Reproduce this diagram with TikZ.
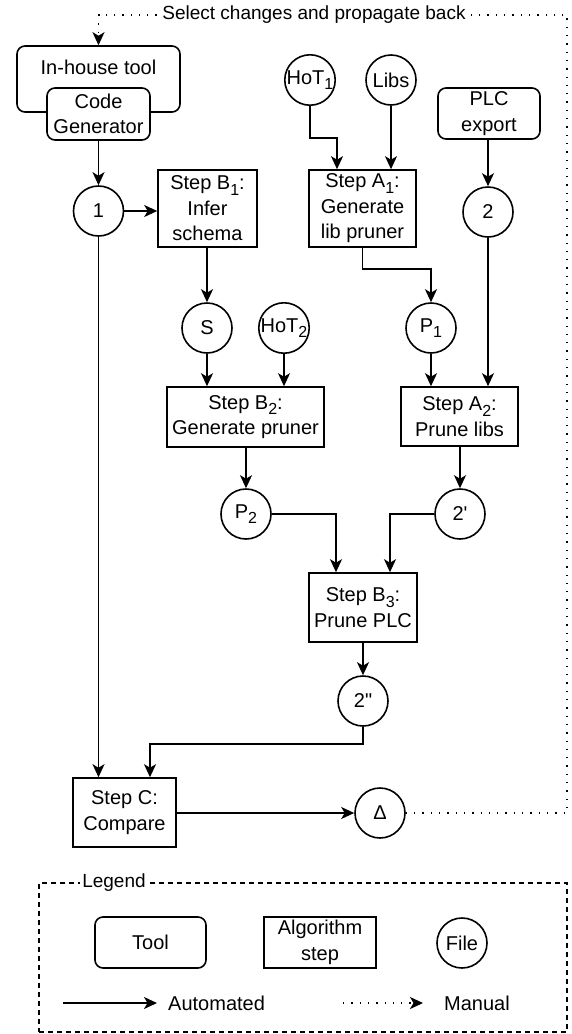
\documentclass[tikz,border=0pt]{standalone}
\usepackage{fontspec}
\setmainfont{Liberation Sans}[Ligatures=TeXOff]
\usetikzlibrary{arrows.meta,calc}
\newcommand\subx[1]{\raisebox{-0.28em}{\fontsize{16}{16}\selectfont #1}}
\begin{document}
\begin{tikzpicture}[x=1pt,y=-1pt,
  every node/.style={font=\fontsize{20}{25.5}\selectfont, inner sep=0pt, align=center},
  base/.style={draw, line width=1.6pt, fill=white},
  toolbox/.style={base, rounded corners=8pt},
  stepbox/.style={base},
  filenode/.style={base, circle, minimum size=50pt},
  arr/.style={line width=1.6pt, -{Stealth[length=13pt,width=12pt,inset=3.5pt]}},
  manarr/.style={line width=1.7pt, dash pattern=on 1.3pt off 7pt, -{Stealth[length=13pt,width=12pt,inset=3.5pt]}},
  txt/.style={}]
\useasboundingbox (0,0) rectangle (572,1034);
% tools
\node[toolbox, minimum width=163pt, minimum height=66pt] (inhouse) at (98.5,79) {};
\node[txt] (inhouselbl) at (98.5,67) {In-house tool};
\node[toolbox, minimum width=103pt, minimum height=52pt] (codegen) at (98.5,114) {Code\\Generator};
\node[toolbox, minimum width=102pt, minimum height=51pt] (plc) at (489,113.5) {PLC\\export};
% files
\node[filenode] (hot1) at (310,80) {HoT\subx{1}};
\node[filenode] (libs) at (391,80) {Libs};
\node[filenode] (f1) at (98.5,211) {1};
\node[filenode] (f2) at (488,212) {2};
\node[filenode] (s) at (207,328) {S};
\node[filenode] (hot2) at (284,328) {HoT\subx{2}};
\node[filenode] (p1) at (431,328) {P\subx{1}};
\node[filenode] (p2) at (246,514) {P\subx{2}};
\node[filenode] (f2p) at (460,514) {2'};
\node[filenode] (f2pp) at (363,701) {2"};
\node[filenode] (delta) at (380,813) {Δ};
% steps
\node[stepbox, minimum width=99pt, minimum height=77pt] (b1) at (207.5,208.5) {Step B\subx{1}:\\Infer\\schema};
\node[stepbox, minimum width=107pt, minimum height=77pt] (a1) at (362.5,208.5) {Step A\subx{1}:\\Generate\\lib pruner};
\node[stepbox, minimum width=157pt, minimum height=60pt] (b2) at (245.5,417) {Step B\subx{2}:\\Generate pruner};
\node[stepbox, minimum width=117pt, minimum height=59pt] (a2) at (459.5,416.5) {Step A\subx{2}:\\Prune libs};
\node[stepbox, minimum width=108pt, minimum height=69pt] (b3) at (363,607.5) {Step B\subx{3}:\\Prune PLC};
\node[stepbox, minimum width=103pt, minimum height=69pt] (c) at (124.5,812.5) {Step C:\\Compare};
% connectors
\draw[arr] (codegen.south) -- (f1.north);
\draw[arr] (f1.east) -- (f1.east -| b1.west);
\draw[arr] (f1.south) -- (f1.south |- c.north);
\draw[arr] (b1.south -| s.north) -- (s.north);
\draw[arr] (hot1.south) -- ++(0,32) -| ([xshift=-25.5pt]a1.north);
\draw[arr] (libs.south) -- (libs.south |- a1.north);
\draw[arr] (plc.south -| f2.north) -- (f2.north);
\draw[arr] (a1.south) -- ++(0,21) -| (p1.north);
\draw[arr] (s.south) -- (s.south |- b2.north);
\draw[arr] (hot2.south) -- (hot2.south |- b2.north);
\draw[arr] (p1.south) -- (p1.south |- a2.north);
\draw[arr] (f2.south) -- (f2.south |- a2.north);
\draw[arr] (b2.south -| p2.north) -- (p2.north);
\draw[arr] (a2.south -| f2p.north) -- (f2p.north);
\draw[arr] (p2.east) -| ([xshift=-27pt]b3.north);
\draw[arr] (f2p.west) -| ([xshift=27pt]b3.north);
\draw[arr] (b3.south) -- (f2pp.north);
\draw[arr] (f2pp.south) -- ++(0,17) -| ([xshift=25.5pt]c.north);
\draw[arr] (c.east |- delta.west) -- (delta.west);
\coordinate (tr) at (567,15);
\draw[manarr] (delta.east) -| (tr) -| (inhouse.north);
\node[fill=white, inner xsep=3pt, inner ysep=1pt, font=\fontsize{19}{24}\selectfont] (backlbl) at (314,15) {Select changes and propagate back};
% legend
\node[draw, line width=1.5pt, dash pattern=on 5pt off 4pt, minimum width=528pt, minimum height=149pt] (legend) at (303,957.5) {};
\node[fill=white, inner xsep=2pt, inner ysep=1pt, font=\fontsize{19}{24}\selectfont] (legendlbl) at (114,883) {Legend};
\node[toolbox, minimum width=111pt, minimum height=51pt] (ltool) at (150.5,942.5) {Tool};
\node[stepbox, minimum width=112pt, minimum height=51pt] (lstep) at (320,942.5) {Algorithm\\step};
\node[filenode] (lfile) at (462,943) {File};
\coordinate (la1) at (63,1003);
\coordinate (la2) at (157,1003);
\draw[arr] (la1) -- (la2);
\node[anchor=west] (lauto) at (168,1003) {Automated};
\coordinate (lm1) at (343,1003);
\coordinate (lm2) at (423,1003);
\draw[manarr] (lm1) -- (lm2);
\node[anchor=west] (lman) at (444,1003) {Manual};
\end{tikzpicture}
\end{document}
